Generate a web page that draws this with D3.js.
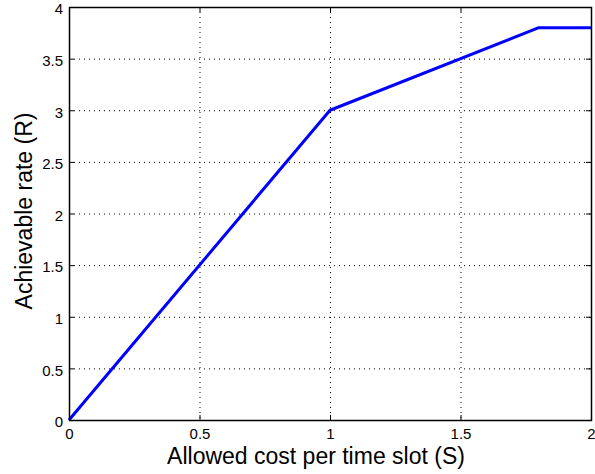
<!DOCTYPE html>
<meta charset="utf-8">
<style>
body { margin: 0; background: #fff; }
text { font-family: "Liberation Sans", Arial, sans-serif; fill: #000; }
.grid line { stroke: #000; stroke-width: 1; stroke-dasharray: 1,4; }
.line { fill: none; stroke: #0000ff; stroke-width: 3px; stroke-linejoin: round; }
</style>
<body></body>
<script src="https://cdn.jsdelivr.net/npm/d3@7"></script>
<script>
// piecewise rate curve
var costS = [0, 1, 1.8, 2];
var rateR = [0, 3, 3.8, 3.8];
var xTicks = [0, 0.5, 1, 1.5, 2];
var yTicks = [0, 0.5, 1, 1.5, 2, 2.5, 3, 3.5, 4];

var W = 595, H = 474;
var margin = {top: 7, right: 4, bottom: 54, left: 69},
    width = W - margin.left - margin.right,
    height = H - margin.top - margin.bottom;

var svg = d3.select("body").append("svg")
    .attr("width", W).attr("height", H);
var g = svg.append("g")
    .attr("transform", "translate(" + margin.left + "," + margin.top + ")");

var x = d3.scaleLinear().domain([0, 2]).range([0, width]);
var y = d3.scaleLinear().domain([0, 4]).range([height, 0]);

// dotted grid
g.append("g").attr("class", "grid")
  .selectAll("line").data(xTicks.slice(1, -1)).enter().append("line")
  .attr("x1", d => x(d) + 0.5).attr("x2", d => x(d) + 0.5)
  .attr("y1", 0).attr("y2", height);
g.append("g").attr("class", "grid")
  .selectAll("line").data(yTicks.slice(1, -1)).enter().append("line")
  .attr("y1", d => y(d) + 0.5).attr("y2", d => y(d) + 0.5)
  .attr("x1", 0).attr("x2", width);

var data = costS.map((s, i) => ({s: s, r: rateR[i]}));
var line = d3.line().x(d => x(d.s)).y(d => y(d.r));
g.append("path").datum(data).attr("class", "line").attr("d", line);

// axes, ticks inside like matlab
function styleAxis(sel) {
  sel.select(".domain").remove();
  sel.selectAll(".tick line").attr("stroke", "#000");
  sel.selectAll("text").style("font-size", "15px")
    .style("font-family", "Liberation Sans, Arial, sans-serif");
}
g.append("g").attr("transform", "translate(0," + height + ")")
  .call(d3.axisBottom(x).tickValues(xTicks).tickSize(-5).tickPadding(8).tickFormat(d3.format("")))
  .call(styleAxis);
g.append("g")
  .call(d3.axisLeft(y).tickValues(yTicks).tickSize(-5).tickPadding(6).tickFormat(d3.format("")))
  .call(styleAxis)
  .selectAll("text").attr("dy", "0.45em");
g.append("g")
  .call(d3.axisTop(x).tickValues(xTicks).tickSize(-5).tickFormat(""))
  .call(styleAxis);
g.append("g").attr("transform", "translate(" + width + ",0)")
  .call(d3.axisRight(y).tickValues(yTicks).tickSize(-5).tickFormat(""))
  .call(styleAxis);

g.append("rect").attr("x", 0.5).attr("y", 0.5)
  .attr("width", width).attr("height", height)
  .attr("fill", "none").attr("stroke", "#000").attr("stroke-width", 1.5);

svg.append("text")
  .attr("x", 316).attr("y", 464)
  .attr("text-anchor", "middle").style("font-size", "23px")
  .text("Allowed cost per time slot (S)");

svg.append("text")
  .attr("transform", "translate(32,211) rotate(-90)")
  .attr("text-anchor", "middle").style("font-size", "23px")
  .text("Achievable rate (R)");
</script>
